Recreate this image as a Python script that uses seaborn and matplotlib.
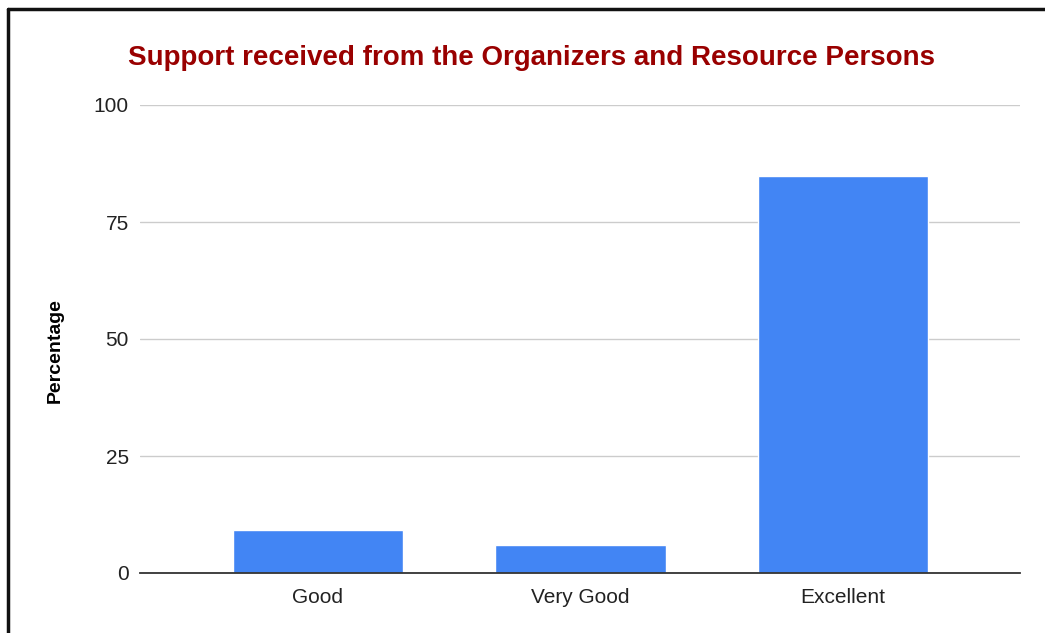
import matplotlib
matplotlib.use('Agg')
import matplotlib.pyplot as plt
import seaborn as sns
import pandas as pd
from matplotlib.lines import Line2D

categories = ['Good', 'Very Good', 'Excellent']
percentages = [9.2, 5.9, 84.8]

df = pd.DataFrame({'rating': categories, 'percentage': percentages})

sns.set_theme(style='white')
plt.rcParams['font.family'] = ['Liberation Sans', 'DejaVu Sans']

W, H = 1045, 633
fig = plt.figure(figsize=(W / 100, H / 100), dpi=100)
ax = fig.add_axes([140 / W, 1 - 573 / H, 880 / W, 468 / H])

sns.barplot(data=df, x='rating', y='percentage', color='#4285F4',
            saturation=1, width=0.648, ax=ax)

ax.set_ylim(0, 100)
ax.set_xlim(-0.678, 2.674)
ax.set_yticks([0, 25, 50, 75, 100])
ax.yaxis.grid(True, color='#cccccc', linewidth=1)
ax.set_axisbelow(True)
for s in ['top', 'right', 'left']:
    ax.spines[s].set_visible(False)
ax.spines['bottom'].set_color('#333333')
ax.spines['bottom'].set_linewidth(1.3)
ax.tick_params(axis='both', length=0, labelsize=15, colors='#222222')
ax.tick_params(axis='y', pad=8)
ax.tick_params(axis='x', pad=11)
ax.set_xlabel('')
ax.set_ylabel('Percentage', fontsize=14, fontweight='bold', color='#000000')
ax.yaxis.set_label_coords(-0.087, 0.476)

fig.text(128 / W, 1 - 58 / H, 'Support received from the Organizers and Resource Persons',
         fontsize=20, fontweight='bold', color='#990000', ha='left', va='center')

# outer frame (top and left edges)
fig.add_artist(Line2D([8 / W, 1], [1 - 9 / H, 1 - 9 / H], color='#111111', linewidth=2.5,
                      transform=fig.transFigure))
fig.add_artist(Line2D([8 / W, 8 / W], [0, 1 - 9 / H], color='#111111', linewidth=2.5,
                      transform=fig.transFigure))

fig.savefig('out.png', dpi=100, facecolor='white')
